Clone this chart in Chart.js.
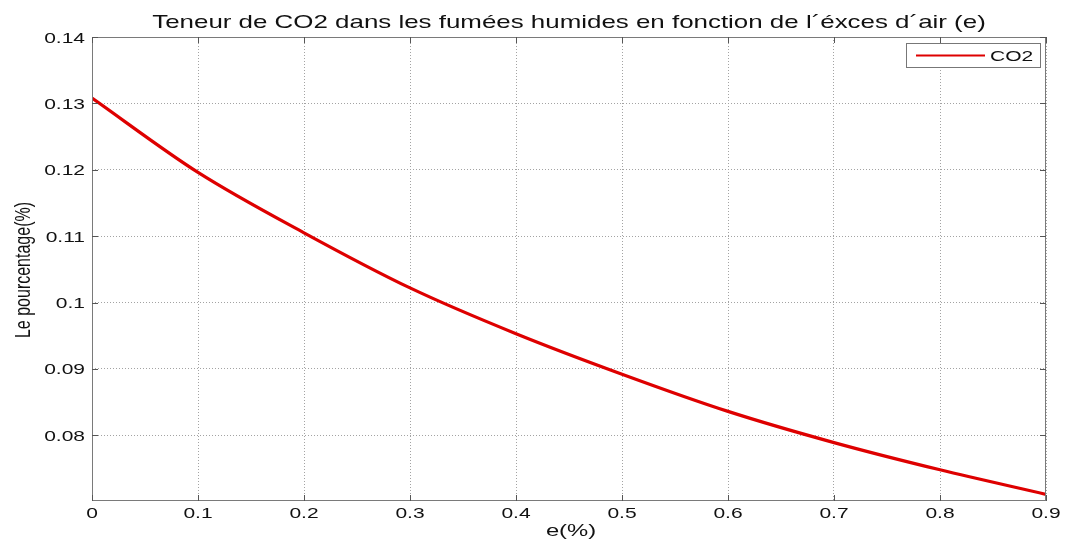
<!DOCTYPE html>
<html>
<head>
<meta charset="utf-8">
<script src="https://cdn.jsdelivr.net/npm/chart.js@4"></script>
<style>
  body { margin: 0; background: #fff; }
  canvas { display: block; }
</style>
</head>
<body>
<canvas id="co2Chart" width="1074" height="539"></canvas>
<script>
// data
const excesAir = [0, 0.1, 0.2, 0.3, 0.4, 0.5, 0.6, 0.7, 0.8, 0.9];
const teneurCO2 = [0.1308, 0.1196, 0.1105, 0.1022, 0.0953, 0.0892, 0.0836, 0.0789, 0.0748, 0.0711];
const xTicks = [0, 0.1, 0.2, 0.3, 0.4, 0.5, 0.6, 0.7, 0.8, 0.9];
const xTickLabels = ['0', '0.1', '0.2', '0.3', '0.4', '0.5', '0.6', '0.7', '0.8', '0.9'];
const yTicks = [0.08, 0.09, 0.1, 0.11, 0.12, 0.13, 0.14];
const yTickLabels = ['0.08', '0.09', '0.1', '0.11', '0.12', '0.13', '0.14'];

const FONT = '"Liberation Sans", Arial, sans-serif';
const SX = 1.4; // the picture is stretched sideways

function stretchText(ctx, txt, x, y, align) {
    ctx.save();
    ctx.translate(x, y);
    ctx.scale(SX, 1);
    ctx.textAlign = align;
    ctx.textBaseline = 'alphabetic';
    ctx.fillText(txt, 0, 0);
    ctx.restore();
}

const matlabLook = {
    id: 'matlabLook',
    afterDraw(chart) {
        const ctx = chart.ctx;
        const a = chart.chartArea;
        const xs = chart.scales.x, ys = chart.scales.y;

        // box round the axes
        ctx.save();
        ctx.strokeStyle = '#7a7a7a';
        ctx.lineWidth = 1;
        ctx.strokeRect(a.left + 0.5, a.top + 0.5, a.right - a.left - 1, a.bottom - a.top - 1);

        // inward tick marks
        ctx.strokeStyle = '#555';
        ctx.beginPath();
        xTicks.forEach(v => {
            const px = Math.round(xs.getPixelForValue(v)) + 0.5;
            ctx.moveTo(px, a.bottom); ctx.lineTo(px, a.bottom - 6);
            ctx.moveTo(px, a.top); ctx.lineTo(px, a.top + 6);
        });
        yTicks.forEach(v => {
            const py = Math.round(ys.getPixelForValue(v)) + 0.5;
            ctx.moveTo(a.left, py); ctx.lineTo(a.left + 6, py);
            ctx.moveTo(a.right, py); ctx.lineTo(a.right - 6, py);
        });
        ctx.stroke();

        // tick labels
        ctx.fillStyle = '#111';
        ctx.font = '15px ' + FONT;
        xTicks.forEach((v, i) => {
            stretchText(ctx, xTickLabels[i], xs.getPixelForValue(v), 518, 'center');
        });
        yTicks.forEach((v, i) => {
            stretchText(ctx, yTickLabels[i], 85, ys.getPixelForValue(v) + 5.5, 'right');
        });

        // titles
        ctx.font = '18.5px ' + FONT;
        stretchText(ctx, 'Teneur de CO2 dans les fumées humides en fonction de l´éxces d´air (e)', (a.left + a.right) / 2, 28, 'center');
        ctx.font = '17px ' + FONT;
        stretchText(ctx, 'e(%)', (a.left + a.right) / 2 + 2, 536, 'center');
        ctx.font = '16px ' + FONT;
        ctx.save();
        ctx.translate(30, 270);
        ctx.scale(SX, 1);
        ctx.rotate(-Math.PI / 2);
        ctx.textAlign = 'center';
        ctx.fillText('Le pourcentage(%)', 0, 0);
        ctx.restore();

        // legend inside the axes
        const ds = chart.data.datasets[0];
        ctx.fillStyle = '#fff';
        ctx.fillRect(906, 43, 134, 24);
        ctx.strokeStyle = '#777';
        ctx.strokeRect(906.5, 43.5, 134, 24);
        ctx.strokeStyle = ds.borderColor;
        ctx.lineWidth = 2;
        ctx.beginPath();
        ctx.moveTo(916, 55.5); ctx.lineTo(985, 55.5);
        ctx.stroke();
        ctx.fillStyle = '#111';
        ctx.font = '15px ' + FONT;
        stretchText(ctx, ds.label, 990, 61, 'left');
        ctx.restore();
    }
};

const ctx = document.getElementById('co2Chart').getContext('2d');
const co2Chart = new Chart(ctx, {
    type: 'line',
    data: {
        datasets: [{
            label: 'CO2',
            data: excesAir.map((x, i) => ({ x: x, y: teneurCO2[i] })),
            borderColor: 'rgb(222, 0, 0)',
            borderWidth: 3.2,
            pointRadius: 0,
            cubicInterpolationMode: 'monotone',
            fill: false
        }]
    },
    options: {
        responsive: false,
        animation: false,
        devicePixelRatio: 1,
        layout: { padding: { top: 37, right: 28, left: 0, bottom: 0 } },
        plugins: {
            legend: { display: false },
            title: { display: false },
            tooltip: { enabled: false }
        },
        scales: {
            x: {
                type: 'linear',
                min: 0,
                max: 0.9,
                afterBuildTicks: axis => { axis.ticks = xTicks.map(v => ({ value: v })); },
                afterFit: axis => { axis.height = 38; },
                ticks: { display: false },
                border: { display: false, dash: [1, 2] },
                grid: { color: '#a3a3a3', lineWidth: 1, drawTicks: false }
            },
            y: {
                type: 'linear',
                min: 0.0701,
                max: 0.14,
                afterBuildTicks: axis => { axis.ticks = yTicks.map(v => ({ value: v })); },
                afterFit: axis => { axis.width = 92; },
                ticks: { display: false },
                border: { display: false, dash: [1, 2] },
                grid: { color: '#a3a3a3', lineWidth: 1, drawTicks: false }
            }
        }
    },
    plugins: [matlabLook]
});
</script>
</body>
</html>
